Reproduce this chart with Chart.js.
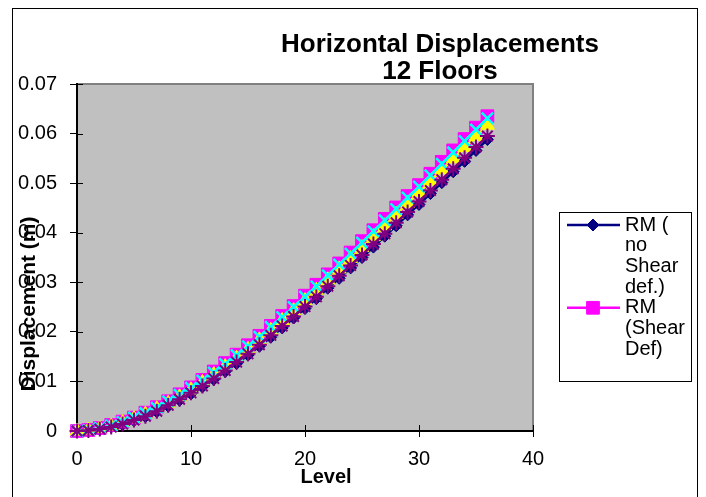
<!DOCTYPE html>
<html>
<head>
<meta charset="utf-8">
<script src="https://cdn.jsdelivr.net/npm/chart.js@4/dist/chart.umd.min.js"></script>
<style>
  html, body { margin: 0; padding: 0; background: #fff; }
  #c { display: block; }
</style>
</head>
<body>
<canvas id="c" width="706" height="497"></canvas>
<script>
// ---- data ----
const levels = [0,1,2,3,4,5,6,7,8,9,10,11,12,13,14,15,16,17,18,19,20,21,22,23,24,25,26,27,28,29,30,31,32,33,34,35,36];

const rmNoShear = [0,0.0001,0.0003,0.0008,0.0013,0.0021,0.0029,0.0039,0.0050,0.0062,0.0075,0.0089,0.0104,0.0120,0.0136,0.0153,0.0171,0.0189,0.0208,0.0228,0.0247,0.0267,0.0288,0.0308,0.0329,0.0350,0.0371,0.0393,0.0414,0.0436,0.0457,0.0479,0.0501,0.0523,0.0544,0.0566,0.0588];
const rmShear   = [0,0.0002,0.0006,0.0012,0.0019,0.0027,0.0037,0.0048,0.0060,0.0074,0.0088,0.0103,0.0120,0.0137,0.0154,0.0173,0.0192,0.0212,0.0232,0.0252,0.0273,0.0295,0.0316,0.0338,0.0360,0.0383,0.0405,0.0428,0.0451,0.0474,0.0496,0.0519,0.0543,0.0566,0.0589,0.0612,0.0635];
const series3   = [0,0.0002,0.0005,0.0010,0.0017,0.0025,0.0034,0.0045,0.0056,0.0069,0.0083,0.0098,0.0114,0.0130,0.0147,0.0165,0.0184,0.0203,0.0223,0.0243,0.0263,0.0284,0.0305,0.0327,0.0348,0.0370,0.0392,0.0414,0.0437,0.0459,0.0481,0.0504,0.0527,0.0549,0.0572,0.0594,0.0617];
const series4   = [0,0.0002,0.0006,0.0011,0.0018,0.0027,0.0036,0.0047,0.0060,0.0073,0.0087,0.0102,0.0118,0.0135,0.0153,0.0171,0.0190,0.0210,0.0230,0.0250,0.0271,0.0292,0.0314,0.0336,0.0358,0.0380,0.0403,0.0425,0.0448,0.0471,0.0493,0.0516,0.0539,0.0562,0.0585,0.0608,0.0631];
const series5   = [0,0.0001,0.0004,0.0008,0.0014,0.0022,0.0030,0.0040,0.0052,0.0064,0.0077,0.0091,0.0106,0.0122,0.0139,0.0156,0.0174,0.0193,0.0212,0.0231,0.0251,0.0271,0.0292,0.0313,0.0334,0.0355,0.0377,0.0398,0.0420,0.0442,0.0463,0.0485,0.0507,0.0529,0.0551,0.0573,0.0595];

const seriesLabels = ['RM ( no Shear def.)', 'RM (Shear Def)', 'Series 3', 'Series 4', 'Series 5'];
const legendShown = [true, true, false, false, false];
const titleLines = ['Horizontal Displacements', '12 Floors'];
const xTitle = 'Level';
const yTitle = 'Displacement (m)';
const xTickLabels = ['0', '10', '20', '30', '40'];
const yTickLabels = ['0', '0.01', '0.02', '0.03', '0.04', '0.05', '0.06', '0.07'];

const FONT = '"Liberation Sans", Arial, sans-serif';

function pts(ys) { return levels.map((x, i) => ({ x: x, y: ys[i] })); }

const styles = [
  { color: '#000080', point: 'rectRot', radius: 6, bw: 1, order: 5 },
  { color: '#FF00FF', point: 'rect', radius: 9, bw: 1, order: 4 },
  { color: '#FFFF00', point: 'triangle', radius: 8, bw: 1, order: 3 },
  { color: '#00FFFF', point: 'crossRot', radius: 8, bw: 2.5, order: 2 },
  { color: '#800080', point: 'star', radius: 7.5, bw: 2, order: 1 }
];
const allSeries = [rmNoShear, rmShear, series3, series4, series5];

const datasets = allSeries.map((ys, i) => ({
  label: seriesLabels[i],
  data: pts(ys),
  showLine: true,
  borderColor: styles[i].color,
  backgroundColor: styles[i].color,
  borderWidth: 2.5,
  pointStyle: styles[i].point,
  pointRadius: styles[i].radius,
  pointBorderWidth: styles[i].bw,
  pointBorderColor: styles[i].color,
  pointBackgroundColor: styles[i].color,
  order: styles[i].order,
  clip: false,
  tension: 0
}));

const decor = {
  id: 'decor',
  beforeDraw(chart) {
    const ctx = chart.ctx, a = chart.chartArea;
    ctx.save();
    ctx.fillStyle = '#fff';
    ctx.fillRect(0, 0, chart.width, chart.height);
    ctx.strokeStyle = '#000';
    ctx.lineWidth = 1;
    ctx.strokeRect(12.5, 8.5, 685, 520);
    ctx.fillStyle = '#C0C0C0';
    ctx.fillRect(a.left, a.top, a.right - a.left, a.bottom - a.top);
    ctx.strokeStyle = '#808080';
    ctx.lineWidth = 2;
    ctx.beginPath();
    ctx.moveTo(a.left, a.top); ctx.lineTo(a.right, a.top); ctx.lineTo(a.right, a.bottom);
    ctx.stroke();
    ctx.restore();
  },
  beforeDatasetsDraw(chart) {
    const ctx = chart.ctx, a = chart.chartArea;
    const xs = chart.scales.x, ys = chart.scales.y;
    ctx.save();
    ctx.strokeStyle = '#000';
    ctx.lineWidth = 1;
    ctx.beginPath();
    xs.ticks.forEach((t, i) => {
      const px = Math.round(xs.getPixelForTick(i)) + 0.5;
      ctx.moveTo(px, a.bottom); ctx.lineTo(px, a.bottom - 6);
    });
    ys.ticks.forEach((t, i) => {
      const py = Math.round(ys.getPixelForTick(i)) + 0.5;
      ctx.moveTo(a.left, py); ctx.lineTo(a.left + 6, py);
    });
    ctx.stroke();
    ctx.restore();
  },
  afterDraw(chart) {
    const ctx = chart.ctx;
    ctx.save();
    ctx.fillStyle = '#000';
    // title
    ctx.font = 'bold 26px ' + FONT;
    ctx.textAlign = 'center';
    ctx.textBaseline = 'alphabetic';
    ctx.fillText(titleLines[0], 440, 52);
    ctx.fillText(titleLines[1], 440, 79);
    // axis titles
    ctx.font = 'bold 20px ' + FONT;
    ctx.fillText(xTitle, 326, 483);
    ctx.save();
    ctx.font = 'bold 21px ' + FONT;
    ctx.translate(35, 304);
    ctx.rotate(-Math.PI / 2);
    ctx.fillText(yTitle, 0, 0);
    ctx.restore();
    // legend
    const bx = 559.5, by = 212.5, bw = 132, bh = 169;
    ctx.fillStyle = '#fff';
    ctx.fillRect(bx, by, bw, bh);
    ctx.strokeStyle = '#000';
    ctx.lineWidth = 1;
    ctx.strokeRect(bx, by, bw, bh);
    ctx.font = '20px ' + FONT;
    ctx.textAlign = 'left';
    ctx.textBaseline = 'middle';
    const lineH = 20.7, maxW = 63;
    let y = 225;
    chart.data.datasets.forEach((ds, i) => {
      if (!legendShown[i]) return;
      const words = ds.label.split(' ');
      const lines = [];
      let cur = '';
      words.forEach(w => {
        const t = cur ? cur + ' ' + w : w;
        if (cur && ctx.measureText(t).width > maxW) { lines.push(cur); cur = w; }
        else cur = t;
      });
      if (cur) lines.push(cur);
      ctx.strokeStyle = ds.borderColor;
      ctx.lineWidth = 2.5;
      ctx.beginPath();
      ctx.moveTo(567, y); ctx.lineTo(620, y);
      ctx.stroke();
      ctx.fillStyle = ds.pointBackgroundColor;
      ctx.strokeStyle = ds.pointBorderColor;
      ctx.lineWidth = ds.pointBorderWidth;
      Chart.helpers.drawPoint(ctx, {
        pointStyle: ds.pointStyle, radius: ds.pointRadius, borderWidth: ds.pointBorderWidth, rotation: 0
      }, 593, y);
      ctx.fillStyle = '#000';
      lines.forEach((ln, k) => ctx.fillText(ln, 625, y + k * lineH));
      y += lines.length * lineH;
    });
    ctx.restore();
  }
};

new Chart(document.getElementById('c'), {
  type: 'scatter',
  data: { datasets: datasets },
  options: {
    responsive: false,
    devicePixelRatio: 1,
    animation: false,
    layout: { padding: { left: 0, top: 84, right: 173, bottom: 0 } },
    plugins: {
      legend: { display: false },
      title: { display: false },
      tooltip: { enabled: false }
    },
    scales: {
      x: {
        type: 'linear', min: 0, max: 40,
        afterFit(s) { s.height = 66; },
        ticks: {
          stepSize: 10,
          color: '#000',
          font: { family: FONT, size: 20 },
          padding: 10,
          maxRotation: 0,
          callback: (v, i) => xTickLabels[i]
        },
        grid: { drawOnChartArea: false, drawTicks: true, tickLength: 6, color: '#000', lineWidth: 1 },
        border: { display: true, color: '#000', width: 2 }
      },
      y: {
        type: 'linear', min: 0, max: 0.07,
        afterFit(s) { s.width = 77; },
        ticks: {
          stepSize: 0.01,
          color: '#000',
          font: { family: FONT, size: 20 },
          padding: 13,
          callback: (v, i) => yTickLabels[i]
        },
        grid: { drawOnChartArea: false, drawTicks: true, tickLength: 7, color: '#000', lineWidth: 1 },
        border: { display: true, color: '#000', width: 2 }
      }
    }
  },
  plugins: [decor]
});
</script>
</body>
</html>
